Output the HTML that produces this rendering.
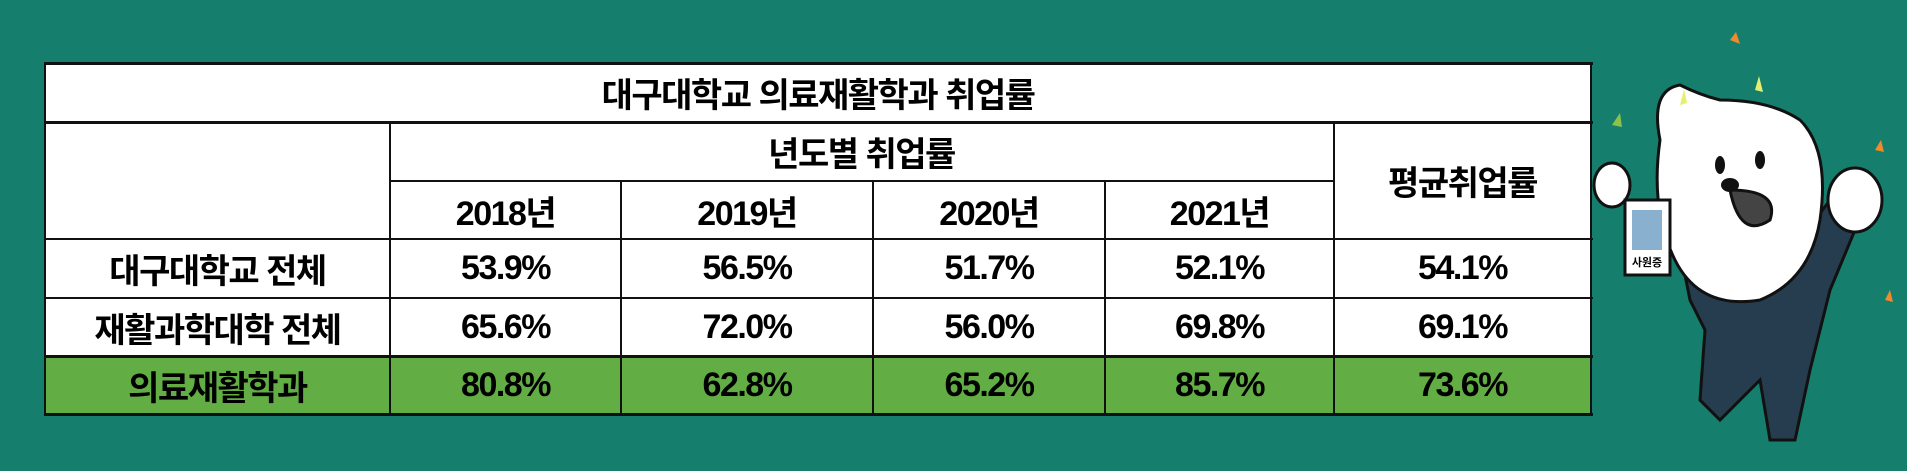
<!DOCTYPE html>
<html><head><meta charset="utf-8"><style>
html,body{margin:0;padding:0}
body{width:1907px;height:471px;background:#167e6c;position:relative;overflow:hidden;font-family:"Liberation Sans","Noto Sans CJK KR",sans-serif;font-weight:bold}
.c{position:absolute;display:flex;align-items:center;justify-content:center;font-size:34px;color:#000;letter-spacing:-1.5px;box-sizing:border-box}
.ln{position:absolute;background:#111}
</style></head><body>
<div style="position:absolute;left:45px;top:63px;width:1546px;height:352px;background:#fff"></div>
<div style="position:absolute;left:45px;top:357px;width:1546px;height:57px;background:#62ae45"></div>
<div class="ln" style="left:44px;top:62px;width:1549px;height:3px"></div>
<div class="ln" style="left:44px;top:121px;width:1549px;height:3px"></div>
<div class="ln" style="left:389px;top:180px;width:945px;height:2px"></div>
<div class="ln" style="left:44px;top:238px;width:1549px;height:2px"></div>
<div class="ln" style="left:44px;top:297px;width:1549px;height:2px"></div>
<div class="ln" style="left:44px;top:355px;width:1549px;height:3px"></div>
<div class="ln" style="left:44px;top:413px;width:1549px;height:3px"></div>
<div class="ln" style="left:44px;top:62px;width:2px;height:354px"></div>
<div class="ln" style="left:1590px;top:62px;width:2px;height:354px"></div>
<div class="ln" style="left:389px;top:122px;width:2px;height:293px"></div>
<div class="ln" style="left:1333px;top:122px;width:2px;height:293px"></div>
<div class="ln" style="left:620px;top:180px;width:2px;height:235px"></div>
<div class="ln" style="left:872px;top:180px;width:2px;height:235px"></div>
<div class="ln" style="left:1104px;top:180px;width:2px;height:235px"></div>
<div class="c" style="left:45px;top:63px;width:1546px;height:59px">대구대학교 의료재활학과 취업률</div>
<div class="c" style="left:390px;top:122px;width:943px;height:58px">년도별 취업률</div>
<div class="c" style="left:1334px;top:122px;width:257px;height:117px">평균취업률</div>
<div class="c" style="left:390px;top:181px;width:231px;height:58px">2018년</div>
<div class="c" style="left:621px;top:181px;width:252px;height:58px">2019년</div>
<div class="c" style="left:873px;top:181px;width:232px;height:58px">2020년</div>
<div class="c" style="left:1105px;top:181px;width:229px;height:58px">2021년</div>
<div class="c" style="left:45px;top:239px;width:345px;height:59px">대구대학교 전체</div>
<div class="c" style="left:390px;top:239px;width:231px;height:59px">53.9%</div>
<div class="c" style="left:621px;top:239px;width:252px;height:59px">56.5%</div>
<div class="c" style="left:873px;top:239px;width:232px;height:59px">51.7%</div>
<div class="c" style="left:1105px;top:239px;width:229px;height:59px">52.1%</div>
<div class="c" style="left:1334px;top:239px;width:257px;height:59px">54.1%</div>
<div class="c" style="left:45px;top:298px;width:345px;height:58px">재활과학대학 전체</div>
<div class="c" style="left:390px;top:298px;width:231px;height:58px">65.6%</div>
<div class="c" style="left:621px;top:298px;width:252px;height:58px">72.0%</div>
<div class="c" style="left:873px;top:298px;width:232px;height:58px">56.0%</div>
<div class="c" style="left:1105px;top:298px;width:229px;height:58px">69.8%</div>
<div class="c" style="left:1334px;top:298px;width:257px;height:58px">69.1%</div>
<div class="c" style="left:45px;top:357px;width:345px;height:57px">의료재활학과</div>
<div class="c" style="left:390px;top:357px;width:231px;height:57px">80.8%</div>
<div class="c" style="left:621px;top:357px;width:252px;height:57px">62.8%</div>
<div class="c" style="left:873px;top:357px;width:232px;height:57px">65.2%</div>
<div class="c" style="left:1105px;top:357px;width:229px;height:57px">85.7%</div>
<div class="c" style="left:1334px;top:357px;width:257px;height:57px">73.6%</div>
<svg style="position:absolute;left:0;top:0" width="1907" height="471">
<g stroke="#111" stroke-width="3">
<path d="M1680 250 L1740 230 L1800 240 L1830 200 L1860 180 L1855 230 L1830 290 L1810 370 L1795 440 L1770 440 L1760 380 L1720 420 L1700 400 L1705 330 L1690 300 Z" fill="#263d4f"/>
<path d="M1660 140 Q1650 90 1680 85 Q1700 95 1720 100 Q1770 100 1800 120 Q1830 150 1820 220 Q1810 280 1760 300 Q1700 310 1675 260 Q1650 210 1660 140 Z" fill="#fff"/>
<ellipse cx="1855" cy="200" rx="27" ry="32" fill="#fff"/>
<ellipse cx="1612" cy="185" rx="18" ry="22" fill="#fff"/>
<rect x="1625" y="200" width="45" height="75" fill="#fff"/>
<path d="M1730 190 Q1740 240 1770 220 Q1780 190 1730 190 Z" fill="#444"/>
</g>
<rect x="1632" y="210" width="30" height="40" fill="#8ab0d0"/>
<ellipse cx="1720" cy="165" rx="5" ry="9" fill="#111"/>
<ellipse cx="1760" cy="160" rx="5" ry="9" fill="#111"/>
<ellipse cx="1730" cy="185" rx="9" ry="7" fill="#111"/>
<text x="1647" y="266" font-size="11" text-anchor="middle" font-family="Noto Sans CJK KR,sans-serif" font-weight="bold">사원증</text>
<path d="M1730 40 l6 -8 l4 12 z" fill="#f08a2a"/>
<path d="M1680 105 l4 -16 l3 14 z" fill="#e6f070"/>
<path d="M1755 90 l4 -14 l4 16 z" fill="#e6f070"/>
<path d="M1612 125 l8 -12 l2 14 z" fill="#8bc34a"/>
<path d="M1875 150 l6 -10 l3 12 z" fill="#f08a2a"/>
<path d="M1885 300 l5 -10 l3 12 z" fill="#f08a2a"/>
</svg>
</body></html>
